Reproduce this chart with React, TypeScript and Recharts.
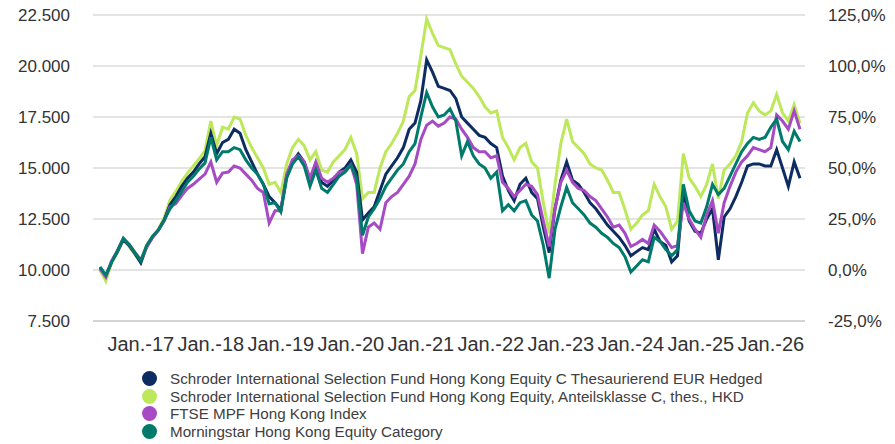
import { LineChart, Line, XAxis, YAxis, CartesianGrid } from 'recharts';

// monthly points, Jun 2016 .. Jun 2026
const START_YEAR = 2016;
const START_MONTH = 6;
const POINTS = 121;

const MONTHS: string[] = [];
for (let i = 0; i < POINTS; i++) {
  const m = START_MONTH - 1 + i;
  const y = START_YEAR + Math.floor(m / 12);
  MONTHS.push(`${y}-${String((m % 12) + 1).padStart(2, '0')}`);
}

const X_TICKS = ['2017-01', '2018-01', '2019-01', '2020-01', '2021-01', '2022-01', '2023-01', '2024-01', '2025-01', '2026-01'];
const X_TICK_LABELS = ['Jan.-17', 'Jan.-18', 'Jan.-19', 'Jan.-20', 'Jan.-21', 'Jan.-22', 'Jan.-23', 'Jan.-24', 'Jan.-25', 'Jan.-26'];

const LEFT_TICKS = [7500, 10000, 12500, 15000, 17500, 20000, 22500];
const RIGHT_TICKS = [-25, 0, 25, 50, 75, 100, 125];

const EUR_HEDGED = [
  10100, 9700, 10400, 10900, 11500, 11200, 10800, 10350, 11150, 11600,
  11950, 12450, 13200, 13600, 14100, 14500, 14800, 15200, 15550, 16700,
  15700, 16250, 16400, 16900, 16700, 15900, 15300, 14700, 14200, 13600,
  13300, 12950, 14600, 15300, 15700, 15300, 14400, 15100, 14300, 14100,
  14400, 14800, 15000, 15400, 14800, 12450, 12800, 13100, 13900, 14700,
  15100, 15500, 16000, 16900, 17200, 18300, 20300, 19700, 19000, 18900,
  18800, 18400, 17500, 17200, 16900, 16600, 16500, 16200, 16000, 14600,
  13900, 13400, 14200, 14500, 13800, 13500, 12100, 10850, 13000, 14400,
  15300, 14400, 14200, 13800, 13300, 13000, 12600, 12200, 11900, 11600,
  11200, 10700, 10900, 11100, 11000, 12000, 11400, 11200, 10400, 10700,
  13800, 12400, 11900, 11800, 12500, 13000, 10500, 12600, 13000, 13600,
  14300, 15100, 15200, 15200, 15100, 15100, 15900, 15000, 14100, 15300,
  14500,
];

const HKD_CLASS = [
  10000, 9450, 10350, 10850, 11450, 11150, 10750, 10450, 11200, 11650,
  12000, 12550, 13430, 13850, 14350, 14750, 15100, 15450, 15850, 17300,
  16100, 17000, 16900, 17500, 17400, 16600, 16000, 15500, 15000, 14200,
  14300, 13800, 15200, 16000, 16400, 16100, 15400, 15800, 14900, 14800,
  15300, 15600, 15900, 16500, 15700, 13500, 13800, 13800, 15000, 15800,
  16200, 16700, 17300, 18500, 18800, 20500, 22300, 21600, 21000, 20900,
  20800, 20100, 19500, 19200, 18900, 18500, 18000, 17700, 17800, 16500,
  16000, 15400, 16000, 16200, 15300, 15000, 13300, 11800, 14200, 16200,
  17400, 16300, 16000, 15700, 15200, 15000, 14900, 14400, 13800, 13800,
  12950, 12000, 12300, 12700, 12900, 14200, 13600, 13100, 12000, 12400,
  15700, 14500, 14100, 13600, 14200, 15200, 13500, 14900, 15200, 15600,
  16300, 17700, 18200, 17800, 17600, 17800, 18600, 17700, 17300, 18100,
  17200,
];

const FTSE_INDEX = [
  10050, 9650, 10450, 10950, 11550, 11250, 10850, 10500, 11100, 11600,
  11950, 12400, 13100, 13250, 13650, 14000, 14200, 14450, 14700, 15300,
  14300, 14750, 14800, 15100, 15000, 14700, 14400, 14000, 13800, 12300,
  12900, 12900, 14700, 15400, 15600, 15300, 14500, 15300, 14500, 14300,
  14500, 14800, 14850, 15150, 14200, 10800, 12100, 12300, 12000, 13300,
  13600, 13800, 14200, 14600, 15200, 16400, 17100, 17300, 17050, 17200,
  17500, 17400, 16900, 16500, 16000, 15800, 15800, 15500, 15600, 14300,
  14000, 13600, 13900, 14200, 14100, 13700, 12400, 11150, 13000, 14300,
  14900, 14300, 14000, 13900, 13600, 13400, 13000, 12600, 12100, 12200,
  11800, 11150, 11300, 11500, 11300, 12200, 11900, 11500, 11100, 11200,
  13300, 12500, 12000, 11600, 12700, 13400, 11800, 13300, 14100, 14800,
  15300, 15600, 16000, 15900, 15800, 16000, 17600, 17300, 16900, 17800,
  16900,
];

const CATEGORY = [
  10150, 9750, 10400, 10950, 11550, 11250, 10850, 10450, 11200, 11650,
  11950, 12450, 13000, 13400, 13850, 14300, 14600, 14950, 15250, 16500,
  15400, 15800, 15800, 16000, 15900, 15400, 15000, 14700, 14200, 13250,
  13300, 12850, 14500, 15200, 15550, 15100, 14100, 14900, 14000, 13800,
  14200, 14600, 14800, 15150, 14500, 11700, 12600, 13000, 13500, 14100,
  14500, 14900, 15200, 15800, 16200, 17500, 18700, 18000, 17500, 17600,
  17900, 17300, 15600, 16300, 15600, 15200, 15000, 14500, 14800, 12900,
  13200, 12900, 13300, 13400, 12700, 12400, 11200, 9600, 12000, 13100,
  14050, 13300, 13000, 12700, 12300, 12100, 11800, 11600, 11300, 11100,
  10650, 9900, 10200, 10500, 10400, 11600, 11400, 11000, 10700, 11000,
  14200, 12900, 12400, 12300, 13100, 14200, 13700, 14000, 14600, 15200,
  15800, 16200, 16500, 16400, 16500, 17000, 17400, 16300, 15900, 16800,
  16300,
];

const SERIES = [
  { key: 'hkd', name: 'Schroder International Selection Fund Hong Kong Equity, Anteilsklasse C, thes., HKD', color: '#bde85a', values: HKD_CLASS },
  { key: 'eur', name: 'Schroder International Selection Fund Hong Kong Equity C Thesaurierend EUR Hedged', color: '#0c2c62', values: EUR_HEDGED },
  { key: 'ftse', name: 'FTSE MPF Hong Kong Index', color: '#a64bc3', values: FTSE_INDEX },
  { key: 'cat', name: 'Morningstar Hong Kong Equity Category', color: '#007a6b', values: CATEGORY },
];

const LEGEND_ORDER = ['eur', 'hkd', 'ftse', 'cat'];

const data = MONTHS.map((m, i) => {
  const row: Record<string, string | number> = { month: m };
  SERIES.forEach(s => { row[s.key] = s.values[i]; });
  return row;
});

const fmtLeft = (v: number) => String(v).replace(/\B(?=(\d{3})+(?!\d))/g, '.');
const fmtRight = (v: number) => `${v.toFixed(1).replace('.', ',')}%`;
const fmtX = (m: string) => {
  const idx = X_TICKS.indexOf(m);
  return idx >= 0 ? X_TICK_LABELS[idx] : '';
};

const SANS = "'Liberation Sans', Arial, sans-serif";

export default function App() {
  return (
    <div style={{ position: 'absolute', left: 0, top: 0, width: 895, height: 444, background: '#fff' }}>
      <LineChart width={895} height={365} data={data} margin={{ top: 15, right: 0, bottom: 4, left: 0 }}>
        <CartesianGrid yAxisId="left" vertical={false} stroke="#e4e4e4" strokeWidth={2} />
        <XAxis
          dataKey="month"
          ticks={X_TICKS}
          interval={0}
          tickFormatter={fmtX}
          tickLine={false}
          axisLine={{ stroke: '#d4d4d4', strokeWidth: 2 }}
          tickSize={0}
          tickMargin={16}
          height={40}
          padding={{ left: 7, right: 5 }}
          tick={{ fill: '#333', fontSize: 20, fontFamily: SANS }}
        />
        <YAxis
          yAxisId="left"
          domain={[7500, 22500]}
          ticks={LEFT_TICKS}
          tickFormatter={fmtLeft}
          width={93}
          axisLine={false}
          tickLine={false}
          tickSize={0}
          tickMargin={23}
          tick={{ fill: '#333', fontSize: 17, fontFamily: SANS }}
        />
        <YAxis
          yAxisId="right"
          orientation="right"
          domain={[-25, 125]}
          ticks={RIGHT_TICKS}
          tickFormatter={fmtRight}
          width={90}
          axisLine={false}
          tickLine={false}
          tickSize={0}
          tickMargin={23}
          allowDataOverflow
          tick={{ fill: '#333', fontSize: 17, fontFamily: SANS, textAnchor: 'start' }}
        />
        {SERIES.map(s => (
          <Line
            key={s.key}
            yAxisId="left"
            type="linear"
            dataKey={s.key}
            name={s.name}
            stroke={s.color}
            strokeWidth={3}
            dot={false}
            isAnimationActive={false}
          />
        ))}
      </LineChart>
      <div style={{ position: 'absolute', left: 142, top: 370, fontFamily: SANS, fontSize: 15.2, color: '#404040' }}>
        {LEGEND_ORDER.map(k => {
          const s = SERIES.find(x => x.key === k)!;
          return (
            <div key={k} style={{ display: 'flex', alignItems: 'center', height: 17.5 }}>
              <span style={{ width: 15, height: 15, borderRadius: '50%', background: s.color, display: 'inline-block', marginRight: 13, flexShrink: 0 }} />
              <span style={{ whiteSpace: 'nowrap', lineHeight: '17.5px' }}>{s.name}</span>
            </div>
          );
        })}
      </div>
    </div>
  );
}
